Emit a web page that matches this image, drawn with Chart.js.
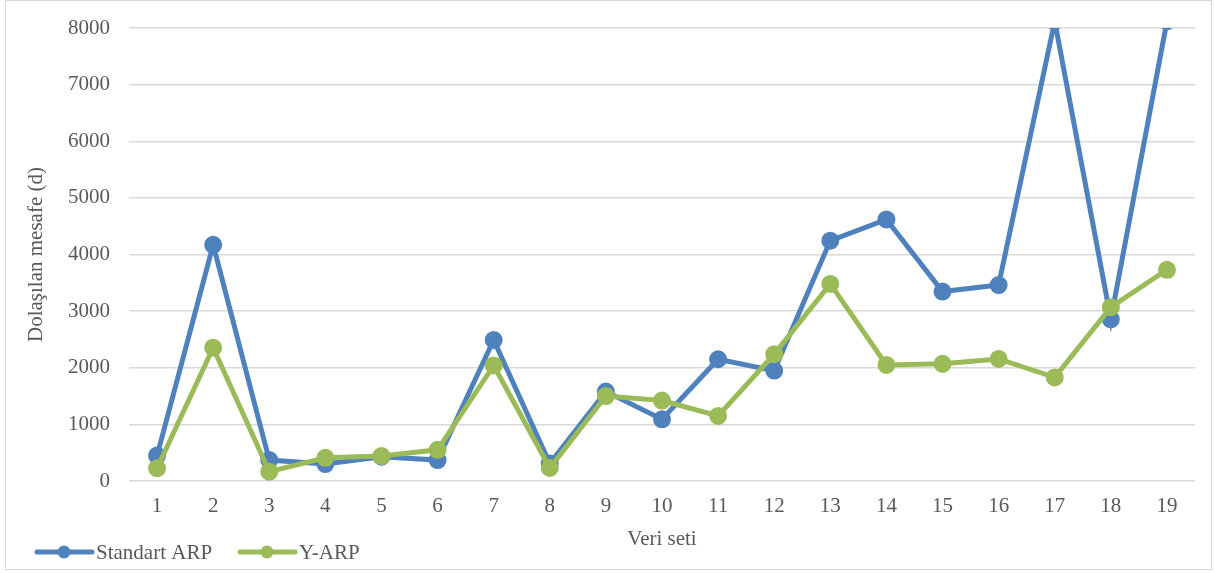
<!DOCTYPE html>
<html>
<head>
<meta charset="utf-8">
<script src="https://cdn.jsdelivr.net/npm/chart.js@4/dist/chart.umd.min.js"></script>
<style>
  html, body { margin: 0; padding: 0; background: #fff; }
  #wrap { position: relative; width: 1215px; height: 573px; }
  #frame { position: absolute; left: 5px; top: 0; width: 1207px; height: 570px; border: 1px solid #d9d9d9; box-sizing: border-box; pointer-events: none; }
  canvas { position: absolute; left: 0; top: 0; }
</style>
</head>
<body>
<div id="wrap">
  <canvas id="c" width="1215" height="573"></canvas>
  <div id="frame"></div>
</div>
<script>
// Veri setleri 1..19
const categories = ['1','2','3','4','5','6','7','8','9','10','11','12','13','14','15','16','17','18','19'];
const standartARP = [450, 4170, 370, 300, 430, 370, 2490, 310, 1580, 1090, 2150, 1950, 4245, 4620, 3345, 3460, 8120, 2855, 8120];
const yARP        = [225, 2355, 165, 410, 440, 550, 2040, 230, 1500, 1420, 1150, 2240, 3480, 2050, 2070, 2155, 1830, 3070, 3730];
const seriesNames = ['Standart ARP', 'Y-ARP'];
const seriesColors = ['#4F81BD', '#9BBB59'];

const FONT = "'Liberation Serif', 'Times New Roman', serif";
const TEXT = '#595959';
const SIZE = 21;

// Legend: line segment with a round marker, then the series name
const lineLegend = {
  id: 'lineLegend',
  afterDraw(chart) {
    const ctx = chart.ctx;
    const y = 552;
    const starts = [37, 240];
    ctx.save();
    ctx.font = SIZE + 'px ' + FONT;
    ctx.textBaseline = 'middle';
    chart.data.datasets.forEach((ds, i) => {
      const x0 = starts[i];
      ctx.strokeStyle = ds.borderColor;
      ctx.lineWidth = 5;
      ctx.lineCap = 'round';
      ctx.beginPath();
      ctx.moveTo(x0, y);
      ctx.lineTo(x0 + 55, y);
      ctx.stroke();
      ctx.fillStyle = ds.borderColor;
      ctx.beginPath();
      ctx.arc(x0 + 27, y, 6.5, 0, Math.PI * 2);
      ctx.fill();
      ctx.fillStyle = TEXT;
      ctx.fillText(ds.label, x0 + 59, y + 1);
    });
    ctx.restore();
  }
};

new Chart(document.getElementById('c'), {
  type: 'line',
  data: {
    labels: categories,
    datasets: [standartARP, yARP].map((values, i) => ({
      label: seriesNames[i],
      data: values,
      // the second series is painted over the first
      order: 1 - i,
      borderColor: seriesColors[i],
      backgroundColor: seriesColors[i],
      pointBackgroundColor: seriesColors[i],
      pointBorderColor: seriesColors[i],
      borderWidth: 5,
      pointRadius: 6.5,
      pointHoverRadius: 6.5,
      tension: 0,
      // values above the axis maximum are cut at the top of the plot area
      clip: { top: 0, left: 10, right: 10, bottom: 10 }
    }))
  },
  options: {
    responsive: false,
    animation: false,
    layout: { padding: { left: 8, right: 20, top: 28, bottom: 20 } },
    plugins: {
      legend: { display: false },
      tooltip: { enabled: false }
    },
    scales: {
      x: {
        offset: true,
        grid: { display: false, drawTicks: false },
        border: { display: false },
        ticks: { color: TEXT, font: { family: FONT, size: SIZE }, padding: 13, maxRotation: 0 },
        title: { display: true, text: 'Veri seti', color: TEXT, font: { family: FONT, size: SIZE }, padding: { top: 0, bottom: 1 } },
        afterFit(scale) { scale.height = 573 - 20 - 481; }
      },
      y: {
        min: 0,
        max: 8000,
        ticks: {
          stepSize: 1000,
          color: TEXT,
          font: { family: FONT, size: SIZE },
          padding: 19,
          callback: (v) => String(v)
        },
        grid: { color: '#d9d9d9', lineWidth: 1.5, drawTicks: false },
        border: { display: false },
        title: { display: true, text: 'Dolaşılan mesafe (d)', color: TEXT, font: { family: FONT, size: SIZE }, padding: { top: 16, bottom: 0 } },
        afterFit(scale) {
          scale.width = 129 - 8;
          scale.paddingTop = 0;
          scale.paddingBottom = 0;
        }
      }
    }
  },
  plugins: [lineLegend]
});
</script>
</body>
</html>
